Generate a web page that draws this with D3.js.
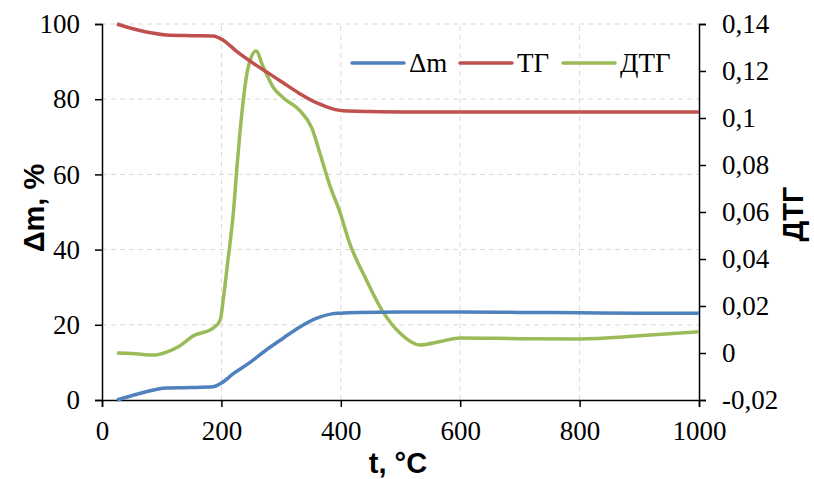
<!DOCTYPE html>
<html>
<head>
<meta charset="utf-8">
<script src="https://cdn.jsdelivr.net/npm/d3@7"></script>
<style>
    body { margin: 0; background: #fff; }
    svg { display: block; }
</style>
</head>
<body>
<div id="chart"></div>
<script>
// temperature, °C
const tempDm = [25, 60, 108, 150, 186, 200, 220, 248, 275, 304, 330, 360, 385, 399, 430, 500, 600, 700, 800, 900, 1000];
const dmValues = [0, 1.6, 3.2, 3.3, 3.5, 4.5, 7, 10, 13.3, 16.5, 19.3, 21.8, 22.9, 23.1, 23.3, 23.4, 23.4, 23.3, 23.2, 23.1, 23.1];

const tempTg = [25, 60, 108, 150, 186, 203, 225, 253, 280, 304, 330, 360, 385, 404, 450, 500, 600, 700, 800, 900, 1000];
const tgValues = [100, 98.4, 97.1, 96.9, 96.8, 95.7, 92.8, 89.6, 86.8, 84.3, 81.6, 79, 77.5, 76.9, 76.7, 76.6, 76.6, 76.6, 76.6, 76.6, 76.6];

const tempDtg = [25, 50, 86, 108, 130, 153, 186, 198, 203, 211, 220, 226, 231, 245, 258, 270, 287, 304, 332, 351, 365, 382, 399, 413, 443, 471, 499, 533, 565, 600, 700, 800, 900, 1000];
const dtgValues = [0, -0.0002, -0.0009, 0.0004, 0.003, 0.0073, 0.0106, 0.014, 0.0226, 0.0396, 0.0596, 0.079, 0.0936, 0.1217, 0.1285, 0.1217, 0.113, 0.1085, 0.103, 0.096, 0.085, 0.071, 0.0596, 0.048, 0.031, 0.0174, 0.0085, 0.0034, 0.0048, 0.0064, 0.0061, 0.006, 0.0073, 0.009];

const xTicks = [0, 200, 400, 600, 800, 1000];
const leftTicks = [0, 20, 40, 60, 80, 100];
const rightTicks = [-0.02, 0, 0.02, 0.04, 0.06, 0.08, 0.1, 0.12, 0.14];

const seriesNames = ["Δm", "ТГ", "ДТГ"];
const seriesColors = ["#4F81BD", "#C0504D", "#9BBB59"];

const serif = '"Liberation Serif", "Times New Roman", "DejaVu Serif", serif';
const sans = '"Liberation Sans", Arial, sans-serif';

const width = 814, height = 479;
const margin = { top: 24, right: 115, bottom: 79, left: 102 };

const svg = d3.select("#chart")
    .append("svg")
    .attr("width", width)
    .attr("height", height);

const x = d3.scaleLinear().domain([0, 1000]).range([margin.left, width - margin.right]);
const yLeft = d3.scaleLinear().domain([0, 100]).range([height - margin.bottom, margin.top]);
const yRight = d3.scaleLinear().domain([-0.02, 0.14]).range([height - margin.bottom, margin.top]);

const commaFmt = v => v === 0 ? "0" : String(+v.toFixed(2)).replace(".", ",");

// grid
svg.append("g")
    .selectAll("line")
    .data(leftTicks.filter(d => d > 0))
    .enter()
    .append("line")
    .attr("x1", x(0)).attr("x2", x(1000))
    .attr("y1", d => yLeft(d)).attr("y2", d => yLeft(d))
    .attr("stroke", "#d9d9d9")
    .attr("stroke-dasharray", "5,4");

svg.append("g")
    .selectAll("line")
    .data(xTicks.filter(d => d > 0 && d < 1000))
    .enter()
    .append("line")
    .attr("x1", d => x(d)).attr("x2", d => x(d))
    .attr("y1", yLeft(0)).attr("y2", yLeft(100))
    .attr("stroke", "#d9d9d9")
    .attr("stroke-dasharray", "5,4");

// axes
const xAxis = svg.append("g")
    .attr("transform", `translate(0,${yLeft(0)})`)
    .call(d3.axisBottom(x).tickValues(xTicks).tickFormat(d3.format("d")).tickSizeOuter(0).tickSize(7).tickPadding(14));

const leftAxis = svg.append("g")
    .attr("transform", `translate(${x(0)},0)`)
    .call(d3.axisLeft(yLeft).tickValues(leftTicks).tickSizeOuter(0).tickSize(7).tickPadding(15));

const rightAxis = svg.append("g")
    .attr("transform", `translate(${x(1000)},0)`)
    .call(d3.axisRight(yRight).tickValues(rightTicks).tickFormat(commaFmt).tickSizeOuter(0).tickSize(7).tickPadding(16));

[xAxis, leftAxis, rightAxis].forEach(a => {
    a.attr("font-family", null).attr("font-size", null);
    a.select(".domain").attr("stroke", "#000").attr("stroke-width", 1.5);
    a.selectAll(".tick line").attr("stroke", "#000").attr("stroke-width", 1.5);
    a.selectAll(".tick text")
        .style("font-family", serif)
        .style("font-size", "27px")
        .attr("fill", "#000");
});

// lines
const lineLeft = (ts) => d3.line()
    .x((d, i) => x(ts[i]))
    .y(d => yLeft(d))
    .curve(d3.curveMonotoneX);

const lineRight = d3.line()
    .x((d, i) => x(tempDtg[i]))
    .y(d => yRight(d))
    .curve(d3.curveMonotoneX);

svg.append("path")
    .attr("d", lineRight(dtgValues))
    .attr("fill", "none")
    .attr("stroke", seriesColors[2])
    .attr("stroke-width", 3.5);

svg.append("path")
    .attr("d", lineLeft(tempTg)(tgValues))
    .attr("fill", "none")
    .attr("stroke", seriesColors[1])
    .attr("stroke-width", 3.5);

svg.append("path")
    .attr("d", lineLeft(tempDm)(dmValues))
    .attr("fill", "none")
    .attr("stroke", seriesColors[0])
    .attr("stroke-width", 3.5);

// legend
const legendX = [352, 460, 563];
const legend = svg.append("g");
seriesNames.forEach((name, i) => {
    legend.append("line")
        .attr("x1", legendX[i]).attr("x2", legendX[i] + 52)
        .attr("y1", 63).attr("y2", 63)
        .attr("stroke", seriesColors[i])
        .attr("stroke-width", 3.5)
        .attr("stroke-linecap", "round");
    legend.append("text")
        .attr("x", legendX[i] + 57)
        .attr("y", 72)
        .style("font-family", serif)
        .style("font-size", "27px")
        .text(name);
});

// titles
const addTitle = (txt, tx, ty, rot) => svg.append("text")
    .attr("text-anchor", "middle")
    .attr("transform", `translate(${tx},${ty}) rotate(${rot})`)
    .style("font-family", sans)
    .style("font-size", "29px")
    .style("font-weight", "bold")
    .text(txt);

addTitle("Δm, %", 44, 208, -90);
addTitle("ДТГ", 803, 214, -90);
addTitle("t, °C", 398, 473, 0);
</script>
</body>
</html>
